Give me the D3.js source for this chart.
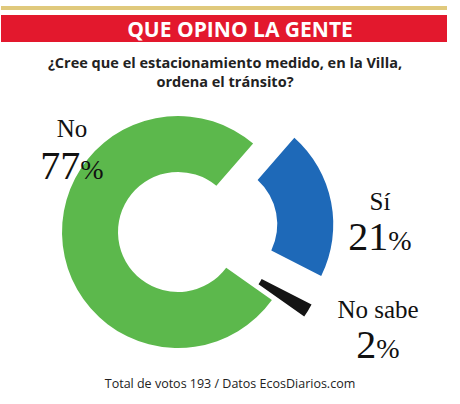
<!DOCTYPE html><html><head><meta charset="utf-8"><script src="https://cdn.jsdelivr.net/npm/d3@7"></script>
<style>body{margin:0;background:#fff}</style></head><body><svg width="460" height="404"></svg>
<script>
const categories=["Sí","No sabe","No"];
const values=[21,2,77];
const colors=["#1e69b8","#141414","#5cb84c"];
const offsets=[40,36,0];
const svg=d3.select("svg");
svg.append("rect").attr("x",1).attr("y",6).attr("width",446).attr("height",4).attr("fill","#e0c97c");
svg.append("rect").attr("x",1).attr("y",15).attr("width",446).attr("height",27).attr("fill","#e3182d");
svg.append("text").attr("x",240).attr("y",37).attr("text-anchor","middle").attr("fill","#fff").attr("font-family","Open Sans").attr("font-weight",700).attr("font-size",21).text("QUE OPINO LA GENTE");
const q=svg.append("text").attr("text-anchor","middle").attr("fill","#222").attr("font-family","Open Sans").attr("font-weight",700).attr("font-size",14.5);
q.append("tspan").attr("x",225).attr("y",68).text("¿Cree que el estacionamiento medido, en la Villa,");
q.append("tspan").attr("x",225).attr("y",87).text("ordena el tránsito?");
const cx=178,cy=232;
const pie=d3.pie().sort(null).startAngle(41*Math.PI/180).endAngle(41*Math.PI/180+2*Math.PI).padAngle(0.02);
const arc=d3.arc().innerRadius(60).outerRadius(116);
const g=svg.append("g").attr("transform",`translate(${cx},${cy})`);
pie(values).forEach((d,i)=>{
  const a=(d.startAngle+d.endAngle)/2;
  g.append("path").attr("d",arc(d)).attr("fill",colors[i])
   .attr("transform",`translate(${offsets[i]*Math.sin(a)},${-offsets[i]*Math.cos(a)})`);
});
function lab(x,y,name,val,dy){
  svg.append("text").attr("x",x).attr("y",y).attr("text-anchor","middle").attr("font-family","Liberation Serif").attr("font-size",25).attr("fill","#111").text(name);
  const t=svg.append("text").attr("x",x).attr("y",y+dy).attr("text-anchor","middle").attr("font-family","Liberation Serif").attr("fill","#111");
  t.append("tspan").attr("font-size",40).text(val);
  t.append("tspan").attr("font-size",28).text("%");
}
lab(72,137,"No",values[2],42);
lab(380,210,"Sí",values[0],40);
lab(378,318,"No sabe",values[1],40);
svg.append("text").attr("x",230).attr("y",388).attr("text-anchor","middle").attr("font-family","Open Sans").attr("font-size",12.5).attr("fill","#222").text("Total de votos 193 / Datos EcosDiarios.com");
</script></body></html>
